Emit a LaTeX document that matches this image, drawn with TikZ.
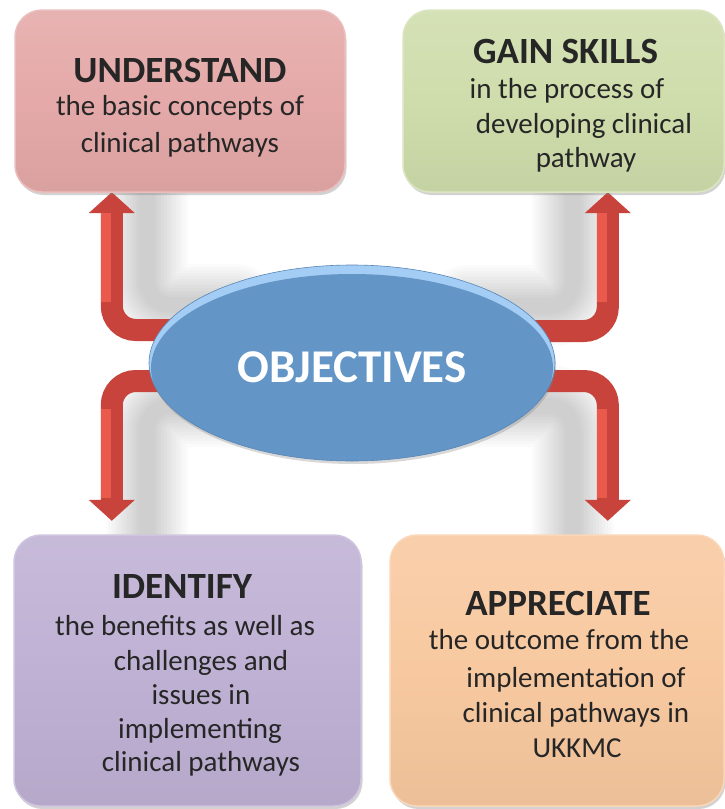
\documentclass[tikz,border=0pt]{standalone}
\usepackage{fontspec}
\setmainfont{Carlito}
\usetikzlibrary{shapes.geometric,arrows.meta,shadows,calc}
\definecolor{pinkbox}{HTML}{E4A9A8}
\definecolor{greenbox}{HTML}{CFDDAC}
\definecolor{purplebox}{HTML}{BFB1D4}
\definecolor{peachbox}{HTML}{F8C9A0}
\definecolor{bluemain}{HTML}{6395C7}
\definecolor{bluelight}{HTML}{A3CDF4}
\definecolor{blueedge}{HTML}{5A86B4}
\definecolor{arrred}{HTML}{C8433B}
\definecolor{arrlight}{HTML}{E95A4C}
\definecolor{txt}{HTML}{262626}
\begin{document}
\begin{tikzpicture}[x=1pt,y=-1pt,
  box/.style={rectangle, rounded corners=27pt, inner sep=0pt, draw=#1!75!white, line width=1.5pt,
    top color=#1!88!white, bottom color=#1!95!black, middle color=#1,
    drop shadow={shadow xshift=1.5pt, shadow yshift=-3pt, opacity=0.35}},
  ttl/.style={font=\fontsize{37}{44}\selectfont\bfseries, text=txt, anchor=base, inner sep=0pt},
  bdy/.style={font=\fontsize{29}{35}\selectfont, text=txt, anchor=base, inner sep=0pt},
  arr/.style={draw=arrred, line width=22pt, rounded corners=24pt, -{Triangle[length=21pt,width=45pt]}},
  hl/.style={draw=arrlight, line width=10pt},
  shd/.style={draw=black, line cap=round, line join=round, rounded corners=24pt}]
\useasboundingbox (0,0) rectangle (725,809);
\fill[white] (0,0) rectangle (725,809);

% positions
\path node[ellipse, minimum width=406pt, minimum height=196pt, inner sep=0pt] (objpos) at (352,363) {};
\path node[rectangle, minimum width=330pt, minimum height=182pt, inner sep=0pt] (upos) at (180,101) {};
\path node[rectangle, minimum width=321pt, minimum height=182pt, inner sep=0pt] (gpos) at (563.5,101) {};
\path node[rectangle, minimum width=347pt, minimum height=271pt, inner sep=0pt] (idpos) at (187.5,670.5) {};
\path node[rectangle, minimum width=334pt, minimum height=271pt, inner sep=0pt] (appos) at (557,670.5) {};

\coordinate (s1) at ($(objpos.center)+(-150,-33)$);
\coordinate (e1) at ($(upos.south west)+(97,0)$);
\coordinate (s2) at ($(objpos.center)+(150,-32)$);
\coordinate (e2) at ($(gpos.south west)+(205,0)$);
\coordinate (s3) at ($(objpos.center)+(-150,18)$);
\coordinate (e3) at ($(idpos.north west)+(98,-14)$);
\coordinate (s4) at ($(objpos.center)+(150,18)$);
\coordinate (e4) at ($(appos.north west)+(218,-14)$);

% soft shadows of the arrows
\foreach \w in {16,22,...,82}{
  \draw[shd, line width=\w pt, opacity=0.017, transform canvas={shift={(35pt,25pt)}}] (s1) -| (e1);
  \draw[shd, line width=\w pt, opacity=0.017, transform canvas={shift={(-35pt,25pt)}}] (s2) -| (e2);
  \draw[shd, line width=\w pt, opacity=0.017, transform canvas={shift={(35pt,-25pt)}}] (s3) -| (e3);
  \draw[shd, line width=\w pt, opacity=0.017, transform canvas={shift={(-35pt,-25pt)}}] (s4) -| (e4);
}

% arrows
\draw[arr] (s1) -| (e1);
\draw[arr] (s2) -| (e2);
\draw[arr] (s3) -| (e3);
\draw[arr] (s4) -| (e4);
\draw[hl] ($(e1)+(-5.5,110)$) -- ($(e1)+(-5.5,21)$);
\draw[hl] ($(e2)+(-5.5,110)$) -- ($(e2)+(-5.5,21)$);
\draw[hl] ($(e3)+(-5.5,-112)$) -- ($(e3)+(-5.5,-23)$);
\draw[hl] ($(e4)+(-5.5,-112)$) -- ($(e4)+(-5.5,-23)$);

% ellipse
\node[ellipse, minimum width=406pt, minimum height=196pt, inner sep=0pt, fill=bluelight,
  drop shadow={shadow xshift=1pt, shadow yshift=-3pt, opacity=0.3},
  path picture={\fill[bluemain] ($(path picture bounding box.center)+(0,5)$) ellipse [x radius=201pt, y radius=94pt];}]
  (obj) at (objpos.center) {};
\draw[blueedge, line width=0.6pt] (obj.center) ellipse [x radius=203pt, y radius=98pt];
\node[font=\fontsize{47}{56}\selectfont\bfseries, text=white, anchor=base, inner sep=0pt] (objl) at ($(obj.center)+(0,19)$) {OBJECTIVES};

% boxes
\node[box=pinkbox, minimum width=330pt, minimum height=182pt] (u) at (upos.center) {};
\node[box=greenbox, minimum width=321pt, minimum height=182pt] (g) at (gpos.center) {};
\node[box=purplebox, minimum width=347pt, minimum height=271pt] (id) at (idpos.center) {};
\node[box=peachbox, minimum width=334pt, minimum height=271pt] (ap) at (appos.center) {};

% texts
\node[ttl] (u0) at (180,82) {UNDERSTAND};
\node[bdy] (u1) at (180,115) {the basic concepts of};
\node[bdy] (u2) at (180,152) {clinical pathways};

\node[ttl] (g0) at (565.5,63) {GAIN SKILLS};
\node[bdy] (g1) at (567,98) {in the process of};
\node[bdy] (g2) at (584,133) {developing clinical};
\node[bdy] (g3) at (586,167) {pathway};

\node[ttl] (i0) at (182,598) {IDENTIFY};
\node[bdy] (i1) at (185,635) {the benefits as well as};
\node[bdy] (i2) at (201,670) {challenges and};
\node[bdy] (i3) at (201,704) {issues in};
\node[bdy] (i4) at (200,738) {implementing};
\node[bdy] (i5) at (201,771) {clinical pathways};

\node[ttl] (a0) at (558,615) {APPRECIATE};
\node[bdy] (a1) at (559,649) {the outcome from the};
\node[bdy] (a2) at (576,687) {implementation of};
\node[bdy] (a3) at (576,722) {clinical pathways in};
\node[bdy] (a4) at (577,757) {UKKMC};
\end{tikzpicture}
\end{document}
